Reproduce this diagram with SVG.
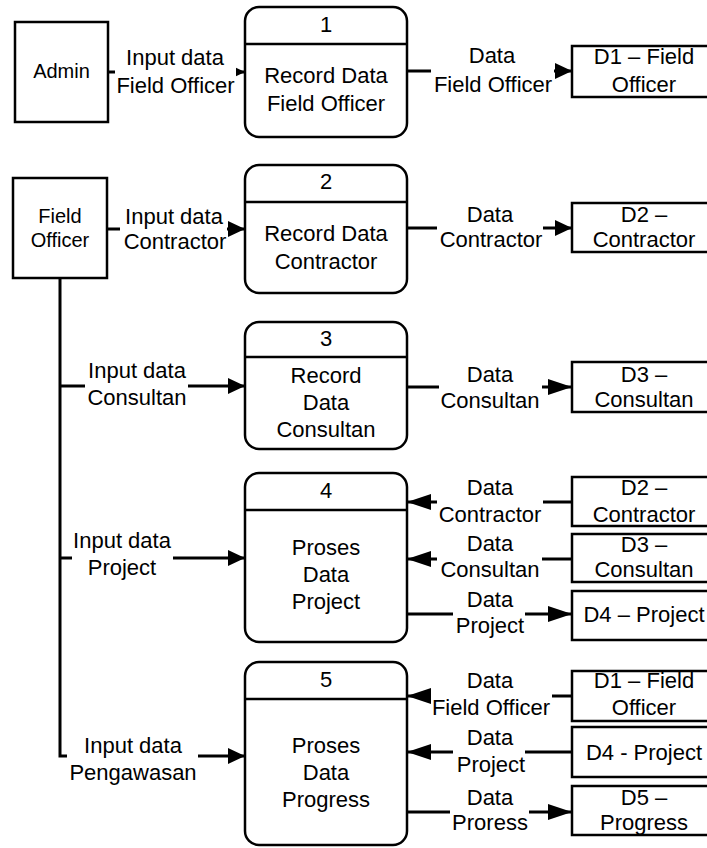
<svg xmlns="http://www.w3.org/2000/svg" width="707" height="848" viewBox="0 0 707 848">
  <style>
    .box { fill: #fff; stroke: #000; stroke-width: 2.5; }
    .store { fill: none; stroke: #000; stroke-width: 2.5; }
    .div { stroke: #000; stroke-width: 2.5; }
    .flow { fill: none; stroke: #000; stroke-width: 3; }
    .bg { fill: #fff; }
    text { font-family: "Liberation Sans", Arial, sans-serif; font-size: 22px; fill: #000; text-anchor: middle; }
    .ent { font-size: 20px; }
  </style>
  <defs>
    <marker id="head-s" markerUnits="userSpaceOnUse" markerWidth="17" markerHeight="16" refX="17" refY="8" orient="auto">
      <path d="M0,0 L17,8 L0,16 z" fill="#000"/>
    </marker>
    <marker id="head-l" markerUnits="userSpaceOnUse" markerWidth="24" markerHeight="16" refX="24" refY="8" orient="auto">
      <path d="M0,0 L24,8 L0,16 z" fill="#000"/>
    </marker>
  </defs>
  <rect width="707" height="848" fill="#fff"/>

  <!-- external entities -->
  <g id="admin">
    <rect class="box" x="15" y="22" width="93" height="100"/>
    <text class="ent" x="61.5" y="78">Admin</text>
  </g>
  <g id="field-officer">
    <rect class="box" x="13" y="178" width="94" height="100"/>
    <text class="ent" x="60" y="223">Field</text>
    <text class="ent" x="60" y="247">Officer</text>
  </g>

  <!-- processes -->
  <g id="p1">
    <rect class="box" x="245" y="7" width="162" height="130" rx="14"/>
    <line class="div" x1="245" y1="44" x2="407" y2="44"/>
    <text x="326" y="32">1</text>
    <text x="326" y="83">Record Data</text>
    <text x="326" y="111">Field Officer</text>
  </g>
  <g id="p2">
    <rect class="box" x="245" y="165" width="162" height="128" rx="14"/>
    <line class="div" x1="245" y1="202" x2="407" y2="202"/>
    <text x="326" y="189">2</text>
    <text x="326" y="241">Record Data</text>
    <text x="326" y="269">Contractor</text>
  </g>
  <g id="p3">
    <rect class="box" x="245" y="322" width="162" height="127" rx="14"/>
    <line class="div" x1="245" y1="357" x2="407" y2="357"/>
    <text x="326" y="346">3</text>
    <text x="326" y="383">Record</text>
    <text x="326" y="410">Data</text>
    <text x="326" y="437">Consultan</text>
  </g>
  <g id="p4">
    <rect class="box" x="245" y="473" width="162" height="169" rx="14"/>
    <line class="div" x1="245" y1="510" x2="407" y2="510"/>
    <text x="326" y="498">4</text>
    <text x="326" y="555">Proses</text>
    <text x="326" y="582">Data</text>
    <text x="326" y="609">Project</text>
  </g>
  <g id="p5">
    <rect class="box" x="245" y="662" width="162" height="183" rx="14"/>
    <line class="div" x1="245" y1="699" x2="407" y2="699"/>
    <text x="326" y="687">5</text>
    <text x="326" y="753">Proses</text>
    <text x="326" y="780">Data</text>
    <text x="326" y="807">Progress</text>
  </g>

  <!-- data stores (open on the right) -->
  <g id="d1-a">
    <path class="store" d="M720,46 H572 V97 H720"/>
    <text x="644" y="64">D1 – Field</text>
    <text x="644" y="92">Officer</text>
  </g>
  <g id="d2-a">
    <path class="store" d="M720,203 H572 V252 H720"/>
    <text x="644" y="222">D2 –</text>
    <text x="644" y="247">Contractor</text>
  </g>
  <g id="d3-a">
    <path class="store" d="M720,362 H572 V412 H720"/>
    <text x="644" y="382">D3 –</text>
    <text x="644" y="407">Consultan</text>
  </g>
  <g id="d2-b">
    <path class="store" d="M720,477 H572 V526 H720"/>
    <text x="644" y="495">D2 –</text>
    <text x="644" y="522">Contractor</text>
  </g>
  <g id="d3-b">
    <path class="store" d="M720,534 H572 V582 H720"/>
    <text x="644" y="552">D3 –</text>
    <text x="644" y="577">Consultan</text>
  </g>
  <g id="d4-a">
    <path class="store" d="M720,591 H572 V640 H720"/>
    <text x="644" y="622">D4 – Project</text>
  </g>
  <g id="d1-b">
    <path class="store" d="M720,671 H572 V721 H720"/>
    <text x="644" y="688">D1 – Field</text>
    <text x="644" y="715">Officer</text>
  </g>
  <g id="d4-b">
    <path class="store" d="M720,727 H572 V777 H720"/>
    <text x="644" y="760">D4 - Project</text>
  </g>
  <g id="d5">
    <path class="store" d="M720,786 H572 V835 H720"/>
    <text x="644" y="805">D5 –</text>
    <text x="644" y="830">Progress</text>
  </g>

  <!-- data flows -->
  <g id="connectors">
    <line class="flow" x1="108" y1="72" x2="245" y2="72" marker-end="url(#head-s)"/>
    <line class="flow" x1="407" y1="71" x2="572" y2="71" marker-end="url(#head-s)"/>
    <line class="flow" x1="107" y1="229" x2="245" y2="229" marker-end="url(#head-s)"/>
    <line class="flow" x1="407" y1="228" x2="572" y2="228" marker-end="url(#head-s)"/>
    <path class="flow" d="M60,278 V756 H245" marker-end="url(#head-s)"/>
    <line class="flow" x1="60" y1="386" x2="245" y2="386" marker-end="url(#head-s)"/>
    <line class="flow" x1="407" y1="387" x2="572" y2="387" marker-end="url(#head-l)"/>
    <line class="flow" x1="60" y1="558" x2="245" y2="558" marker-end="url(#head-s)"/>
    <line class="flow" x1="572" y1="502" x2="407" y2="502" marker-end="url(#head-l)"/>
    <line class="flow" x1="572" y1="559" x2="407" y2="559" marker-end="url(#head-l)"/>
    <line class="flow" x1="407" y1="614" x2="572" y2="614" marker-end="url(#head-l)"/>
    <line class="flow" x1="572" y1="696" x2="407" y2="696" marker-end="url(#head-l)"/>
    <line class="flow" x1="572" y1="752" x2="407" y2="752" marker-end="url(#head-l)"/>
    <line class="flow" x1="407" y1="812" x2="572" y2="812" marker-end="url(#head-l)"/>

    <!-- flow labels -->
    <rect class="bg" x="115" y="47" width="121" height="52"/>
    <text x="175" y="65">Input data</text>
    <text x="175.5" y="93">Field Officer</text>

    <rect class="bg" x="431" y="45" width="123" height="53"/>
    <text x="492" y="63">Data</text>
    <text x="493" y="92">Field Officer</text>

    <rect class="bg" x="120" y="203" width="107" height="50"/>
    <text x="174" y="224">Input data</text>
    <text x="175" y="249">Contractor</text>

    <rect class="bg" x="437" y="200" width="106" height="53"/>
    <text x="490" y="222">Data</text>
    <text x="491" y="247">Contractor</text>

    <rect class="bg" x="85" y="358" width="103" height="54"/>
    <text x="137" y="378">Input data</text>
    <text x="137" y="405">Consultan</text>

    <rect class="bg" x="439" y="360" width="103" height="54"/>
    <text x="490" y="382">Data</text>
    <text x="490" y="408">Consultan</text>

    <rect class="bg" x="72" y="528" width="101" height="54"/>
    <text x="122" y="548">Input data</text>
    <text x="122" y="575">Project</text>

    <rect class="bg" x="437" y="475" width="106" height="53"/>
    <text x="490" y="495">Data</text>
    <text x="490" y="522">Contractor</text>

    <rect class="bg" x="437" y="531" width="105" height="52"/>
    <text x="490" y="551">Data</text>
    <text x="490" y="577">Consultan</text>

    <rect class="bg" x="453" y="587" width="72" height="53"/>
    <text x="490" y="607">Data</text>
    <text x="490" y="633">Project</text>

    <rect class="bg" x="67" y="728" width="131" height="57"/>
    <text x="133" y="753">Input data</text>
    <text x="133" y="780">Pengawasan</text>

    <rect class="bg" x="431" y="668" width="121" height="54"/>
    <text x="490" y="688">Data</text>
    <text x="491" y="715">Field Officer</text>

    <rect class="bg" x="453" y="725" width="72" height="53"/>
    <text x="490" y="745">Data</text>
    <text x="491" y="772">Project</text>

    <rect class="bg" x="450" y="785" width="79" height="53"/>
    <text x="490" y="805">Data</text>
    <text x="490" y="830">Proress</text>
  </g>
</svg>
